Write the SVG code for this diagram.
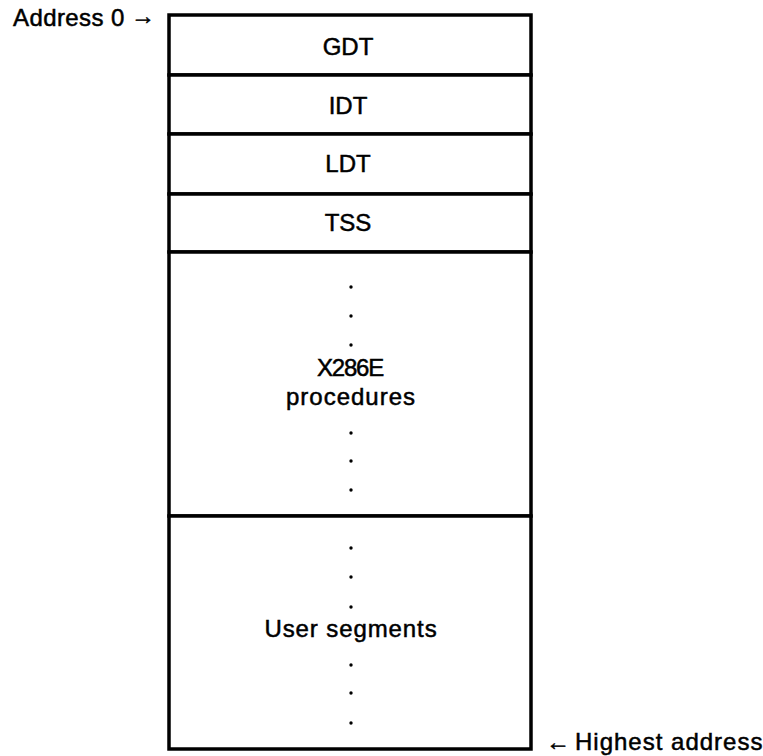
<svg xmlns="http://www.w3.org/2000/svg" width="763" height="756" viewBox="0 0 763 756">
<style>
.seg{fill:#fff;stroke:#000;stroke-width:3.5}
.t{font-family:"Liberation Sans",Arial,Helvetica,sans-serif;font-size:24px;fill:#000;stroke:#000;stroke-width:0.5;text-anchor:middle}
.l{font-family:"Liberation Sans",Arial,Helvetica,sans-serif;font-size:24px;fill:#000;stroke:#000;stroke-width:0.5}
.d{fill:#000}
</style>
<rect width="763" height="756" fill="#fff"/>
<g id="label-address0">
<text class="l" x="13" y="26" letter-spacing="0.4">Address 0</text>
<text class="l" x="131" y="24" font-size="20">→</text>
</g>
<g id="seg-gdt"><rect class="seg" x="169" y="15" width="362" height="60"/><text class="t" x="348" y="55">GDT</text></g>
<g id="seg-idt"><rect class="seg" x="169" y="75" width="362" height="59"/><text class="t" x="348" y="114">IDT</text></g>
<g id="seg-ldt"><rect class="seg" x="169" y="134" width="362" height="60"/><text class="t" x="348" y="172">LDT</text></g>
<g id="seg-tss"><rect class="seg" x="169" y="194" width="362" height="58"/><text class="t" x="348" y="231">TSS</text></g>
<g id="seg-x286e">
<rect class="seg" x="169" y="252" width="362" height="264"/>
<circle class="d" cx="351" cy="287" r="1.7"/><circle class="d" cx="351" cy="316" r="1.7"/><circle class="d" cx="351" cy="345" r="1.7"/>
<text class="t" x="350" y="376" letter-spacing="-1.2">X286E</text>
<text class="t" x="351" y="405" letter-spacing="1">procedures</text>
<circle class="d" cx="351" cy="433" r="1.7"/><circle class="d" cx="351" cy="461" r="1.7"/><circle class="d" cx="351" cy="490" r="1.7"/>
</g>
<g id="seg-user">
<rect class="seg" x="169" y="516" width="362" height="233"/>
<circle class="d" cx="351" cy="548" r="1.7"/><circle class="d" cx="351" cy="577" r="1.7"/><circle class="d" cx="351" cy="607" r="1.7"/>
<text class="t" x="351" y="637" letter-spacing="0.9">User segments</text>
<circle class="d" cx="351" cy="665" r="1.7"/><circle class="d" cx="351" cy="693" r="1.7"/><circle class="d" cx="351" cy="723" r="1.7"/>
</g>
<g id="label-highest">
<text class="l" x="546" y="750" font-size="20">←</text>
<text class="l" x="575" y="750" letter-spacing="1">Highest address</text>
</g>
</svg>
